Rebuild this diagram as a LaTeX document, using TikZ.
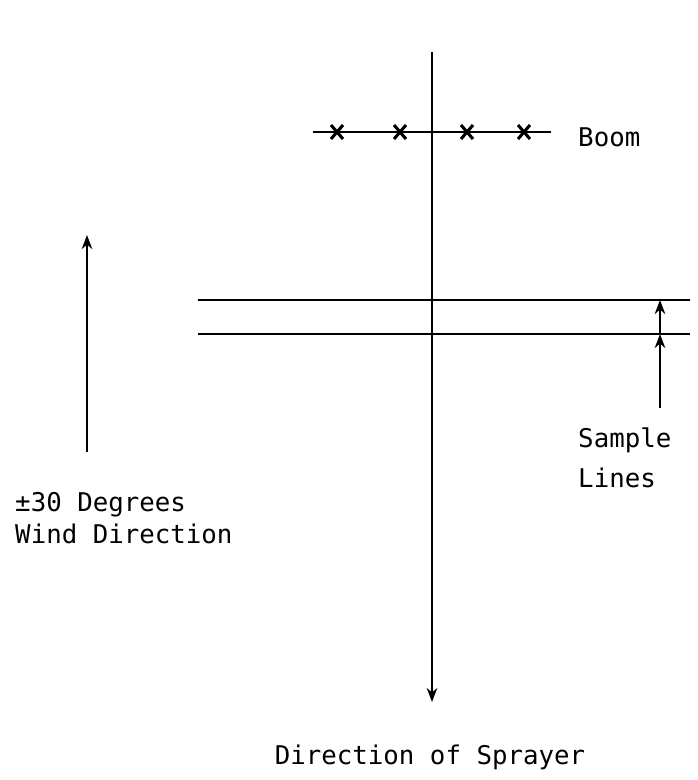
\documentclass[tikz,border=0pt]{standalone}
\usepackage{fontspec}
\setmonofont{DejaVu Sans Mono}
\usetikzlibrary{arrows.meta}

\begin{document}
\begin{tikzpicture}[
    x=0.03cm, y=-0.03cm,
    >={Stealth[length=12pt, width=9pt]},
    every node/.style={font=\ttfamily\fontsize{22}{26}\selectfont, inner sep=0pt},
    ln/.style={line width=1.9pt},
    lbl/.style={anchor=base west},
]
    \useasboundingbox (0,0) rectangle (698,780);

    % Sprayer path
    \coordinate (pathTop) at (432,52);
    \coordinate (pathEnd) at (432,702);
    \draw[ln,->] (pathTop) -- (pathEnd);
    \node[anchor=base] (lbSprayer) at (430,764) {Direction of Sprayer};

    % Boom with nozzles
    \coordinate (boomL) at (313,132);
    \coordinate (boomR) at (551,132);
    \draw[ln] (boomL) -- (boomR);
    \foreach \nx in {337,400,467,524}
        \draw[line width=2.6pt] (\nx-6,125) -- (\nx+6,139) (\nx-6,139) -- (\nx+6,125);
    \node[lbl] (lbBoom) at (578,146) {Boom};

    % Sample lines
    \coordinate (s1L) at (198,300);
    \coordinate (s1R) at (690,300);
    \coordinate (s2L) at (198,334);
    \coordinate (s2R) at (690,334);
    \draw[ln] (s1L) -- (s1R);
    \draw[ln] (s2L) -- (s2R);
    \coordinate (sTail) at (660,408);
    \coordinate (sHit2) at (660,334);
    \coordinate (sHit1) at (660,300);
    \draw[ln,->] (sTail) -- (sHit2);
    \draw[ln,->] (sHit2) -- (sHit1);
    \node[lbl] (lbSample) at (578,447) {Sample};
    \node[lbl] (lbLines) at (578,487) {Lines};

    % Wind direction
    \coordinate (windTail) at (87,452);
    \coordinate (windHead) at (87,235);
    \draw[ln,->] (windTail) -- (windHead);
    \node[lbl] (lbDeg) at (15,511) {±30 Degrees};
    \node[lbl] (lbWind) at (15,543) {Wind Direction};

\end{tikzpicture}
\end{document}
